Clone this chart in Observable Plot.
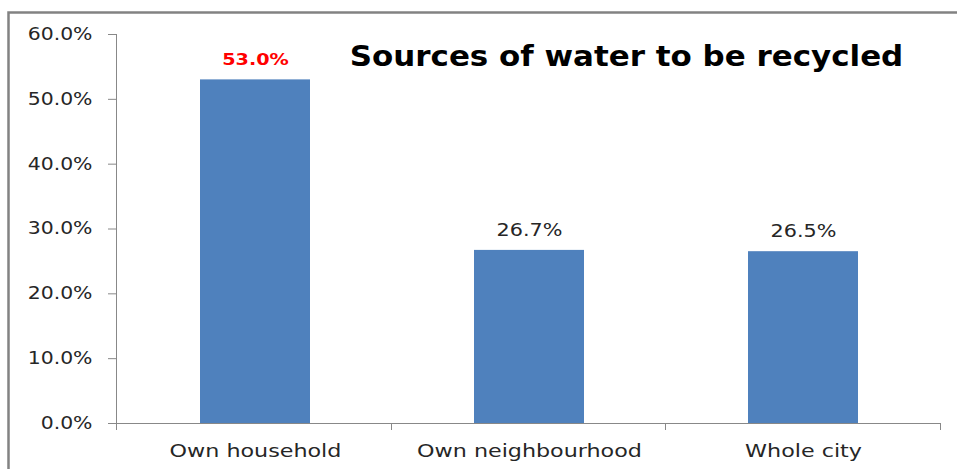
<!DOCTYPE html>
<html><head><meta charset="utf-8">
<script src="https://cdn.jsdelivr.net/npm/d3@7"></script>
<script src="https://cdn.jsdelivr.net/npm/@observablehq/plot@0.6"></script>
<style>
html,body{margin:0;padding:0;background:#fff;}
#chart{position:relative;width:957px;height:469px;overflow:hidden;}
</style></head><body><div id="chart"></div>
<script>
const categories = ["Own household", "Own neighbourhood", "Whole city"];
const values = [0.530, 0.267, 0.265];
const valueLabels = ["53.0%", "26.7%", "26.5%"];
const highlighted = [true, false, false];
const yTicks = [0, 0.1, 0.2, 0.3, 0.4, 0.5, 0.6];
const title = "Sources of water to be recycled";

const data = categories.map((c, i) => ({category: c, value: values[i], label: valueLabels[i], hi: highlighted[i]}));

const W = 957, H = 469;
const axisColor = "#888888";
const textColor = "#262626";

function decor(index, scales, channels, dims) {
  const g = d3.create("svg:g");
  const {width, height, marginLeft, marginRight, marginTop, marginBottom} = dims;
  const x0 = marginLeft, x1 = width - marginRight, yb = height - marginBottom;
  g.append("path").attr("d", `M8.5,${height}V12.5H${width}`)
    .attr("fill", "none").attr("stroke", "#828282").attr("stroke-width", 2.5);
  g.append("line").attr("x1", x0 - 0.5).attr("x2", x0 - 0.5).attr("y1", marginTop).attr("y2", yb)
    .attr("stroke", axisColor);
  g.append("line").attr("x1", x0 - 9).attr("x2", x1).attr("y1", yb + 0.5).attr("y2", yb + 0.5)
    .attr("stroke", axisColor);
  const n = categories.length;
  for (let i = 0; i <= n; i++) {
    const x = Math.round(x0 + i * (x1 - x0) / n) - 0.5;
    g.append("line").attr("x1", x).attr("x2", x).attr("y1", yb).attr("y2", yb + 7)
      .attr("stroke", axisColor);
  }
  return g.node();
}

const chart = Plot.plot({
  width: W,
  height: H,
  marginLeft: 117,
  marginRight: 16,
  marginTop: 34,
  marginBottom: 46,
  className: "wchart",
  style: {fontFamily: "DejaVu Sans", fontSize: "17px", color: textColor, background: "#fff"},
  x: {domain: categories, paddingInner: 0.6, paddingOuter: 0.3, label: null},
  y: {domain: [0, 0.6], label: null},
  marks: [
    Plot.barY(data, {x: "category", y: "value", fill: "#4F81BD"}),
    decor,
    Plot.axisY({ticks: yTicks, tickFormat: d3.format(".1%"), tickSize: 9, tickPadding: 16,
      stroke: axisColor, fill: textColor, fontSize: 17, label: null}),
    Plot.axisX({tickSize: 0, tickPadding: 21, fill: textColor, fontSize: 17.5, label: null}),
    Plot.text(data.filter(d => d.hi), {x: "category", y: "value", text: "label", dy: -20,
      lineAnchor: "middle", fill: "#ff0000", fontWeight: "bold", fontSize: 16, className: "vhi"}),
    Plot.text(data.filter(d => !d.hi), {x: "category", y: "value", text: "label", dy: -20,
      lineAnchor: "middle", fill: textColor, fontSize: 17, className: "vlab"}),
    Plot.text([title], {text: d => d, frameAnchor: "top", dx: 97, dy: 23, lineAnchor: "middle",
      fontSize: 28, fontWeight: "bold", fill: "#000", className: "ttl"})
  ]
});

// widen glyphs horizontally around each text's anchor, as in the reference
function widen(selector, sx) {
  d3.select(chart).selectAll(selector).each(function () {
    const t = this.getAttribute("transform") || "";
    this.setAttribute("transform", (t + ` scale(${sx},1)`).trim());
  });
}
widen('g[aria-label="y-axis tick label"] text', 1.2);
widen('g[aria-label="x-axis tick label"] text', 1.27);
widen('.vlab text', 1.22);
widen('.vhi text', 1.2);
widen('.ttl text', 1.105);

document.getElementById("chart").appendChild(chart);
</script>
</body></html>
